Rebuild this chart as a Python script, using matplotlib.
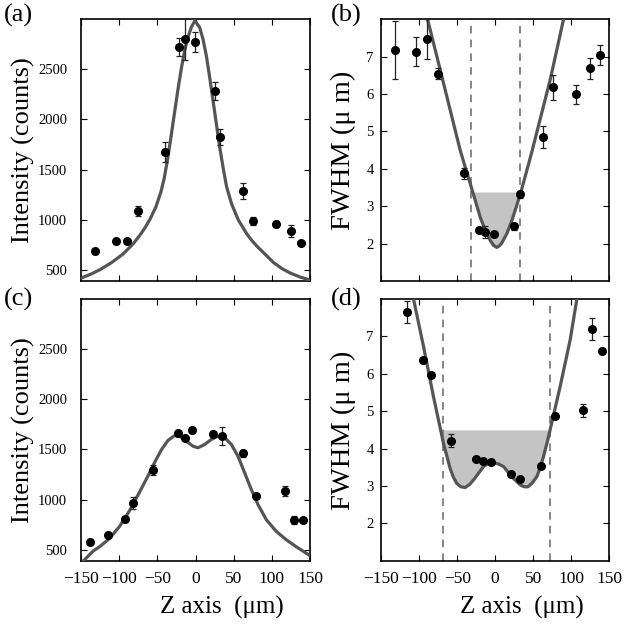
import numpy as np
import matplotlib
matplotlib.use("Agg")
import matplotlib.pyplot as plt

plt.rcParams['font.family'] = ['Liberation Serif', 'DejaVu Serif']
plt.rcParams['axes.unicode_minus'] = True

# ---- panel (a): intensity, measured points + model curve
a_x = [-131.7, -104.1, -89.7, -74.9, -40.4, -21.6, -13.3, -1.1, 25.5, 32.5, 61.8, 75.8, 105.5, 124.7, 138.2]
a_y = [688, 785, 785, 1085, 1680, 2720, 2805, 2775, 2283, 1827, 1285, 990, 957, 890, 765]
a_err = [25, 15, 15, 50, 100, 90, 210, 100, 90, 80, 80, 40, 30, 60, 15]
a_cx = [-150, -137, -125, -110, -95, -82, -72.7, -66, -59.5, -52, -45.4, -41, -36.6, -32.2, -27.8, -23.3,
        -18.9, -14.5, -10.1, -5.7, -1, 5.3, 9.7, 14.1, 18.5, 22.9, 27.3, 31.7, 36.1, 40.5, 47.1, 55.9,
        67, 73.6, 80, 90, 102, 113, 124, 137, 150]
a_cy = [420, 460, 505, 575, 660, 760, 850, 925, 1010, 1130, 1280, 1420, 1610, 1830, 2060, 2290,
        2500, 2683, 2817, 2917, 2985, 2917, 2800, 2633, 2417, 2183, 1950, 1717, 1517, 1333, 1160, 1000,
        860, 795, 740, 665, 575, 515, 470, 430, 400]

# ---- panel (b): FWHM
b_x = [-131.6, -104.4, -89.9, -75.4, -40.8, -21.9, -13.2, -1.3, 25.4, 32.5, 62.3, 76.3, 106.1, 125.0, 138.2]
b_y = [7.17, 7.13, 7.46, 6.54, 3.88, 2.37, 2.31, 2.25, 2.46, 3.32, 4.85, 6.18, 5.99, 6.68, 7.04]
b_err = [0.78, 0.39, 0.53, 0.15, 0.15, 0.05, 0.15, 0.04, 0.1, 0.1, 0.3, 0.33, 0.25, 0.28, 0.27]
b_cx = [-89, -68, -46.1, -39.5, -32.9, -31.6, -26.3, -19.7, -13.2, -6.6, -2, 2.2, 6, 8.8, 15.4,
        22, 28.5, 32.9, 35.1, 41.7, 48.2, 72.4, 90]
b_cy = [8.0, 6.29, 4.5, 4.05, 3.61, 3.52, 3.16, 2.71, 2.36, 2.09, 1.95, 1.9, 1.95, 2.02, 2.27,
        2.62, 3.03, 3.32, 3.47, 3.96, 4.45, 6.38, 8.0]
b_lines = [-31.6, 32.9]
b_level = 3.38

# ---- panel (c): intensity
c_x = [-139, -114.6, -92.4, -82.3, -55.7, -22.9, -13.3, -4.1, 22.9, 34.7, 62.7, 79.7, 117.3, 128.6, 141.3]
c_y = [577, 650, 807, 967, 1300, 1660, 1617, 1690, 1657, 1633, 1460, 1033, 1083, 800, 793]
c_err = [15, 15, 20, 60, 50, 15, 15, 30, 25, 90, 30, 10, 50, 40, 10]
c_cx = [-147, -134, -126, -112.9, -99.7, -86.6, -73.5, -62.5, -53.8, -45, -36.3, -27.6, -21, -12.2,
        -3.5, 3.1, 11.8, 20.6, 29.3, 38.1, 46.8, 55.5, 64.3, 73, 81.8, 92.7, 105.8, 118.9, 132, 147.4, 150]
c_cy = [390, 490, 530, 612, 733, 890, 1075, 1235, 1370, 1495, 1590, 1638, 1633, 1583,
        1533, 1517, 1550, 1600, 1633, 1617, 1550, 1433, 1267, 1100, 950, 800, 683, 600, 530, 455, 440]

# ---- panel (d): FWHM
d_x = [-116.2, -95.2, -84.6, -57.5, -25.4, -16.2, -6.1, 20.2, 32.9, 60.1, 78.5, 115.4, 127.2, 140.4]
d_y = [7.65, 6.38, 5.97, 4.21, 3.71, 3.68, 3.65, 3.32, 3.19, 3.54, 4.86, 5.02, 7.2, 6.62]
d_err = [0.3, 0.04, 0.04, 0.18, 0.03, 0.03, 0.03, 0.03, 0.03, 0.03, 0.03, 0.18, 0.3, 0.03]
d_cx = [-107.5, -94.3, -81.2, -68, -59.3, -54.8, -50.5, -45.2, -39.5, -33.8, -28.6, -21.9, -15.4, -8.8,
        -2.2, 4.4, 11, 17.5, 24.2, 33, 38.2, 43, 48.2, 54.8, 59.2, 63.6, 68, 71.9, 85.5, 98.7, 107.5]
d_cy = [8.0, 6.73, 5.39, 4.14, 3.47, 3.23, 3.07, 2.98, 2.96, 3.04, 3.16, 3.34, 3.52, 3.60,
        3.625, 3.59, 3.52, 3.36, 3.2, 3.03, 2.98, 2.98, 3.07, 3.25, 3.49, 3.79, 4.14, 4.47, 5.66, 6.91, 8.0]
d_lines = [-68, 71.9]
d_level = 4.5

xticks = [-150, -100, -50, 0, 50, 100, 150]
curve_color = '#555555'

fig = plt.figure(figsize=(6.29, 6.26), dpi=100)

def setup(ax, show_xlabels, ypad):
    ax.set_xlim(-150, 150)
    ax.set_xticks(xticks)
    ax.tick_params(direction='in', top=True, right=True, length=4, width=0.8)
    ax.tick_params(axis='x', labelsize=12.5, pad=7)
    ax.tick_params(axis='y', labelsize=10.5, pad=ypad)
    for s in ax.spines.values():
        s.set_linewidth(1.2)
    if show_xlabels:
        ax.set_xlabel('Z axis  (μm)', fontsize=18)
        ax.xaxis.set_label_coords(0.615, -0.135)
    else:
        ax.set_xticklabels([])

def draw_points(ax, x, y, err):
    ax.errorbar(x, y, yerr=err, fmt='o', color='black', ms=5.5,
                ecolor='#222222', elinewidth=0.9, capsize=2.2, capthick=0.9, zorder=4)

# axes boxes (fractions of figure)
pos = {'a': [0.129, 0.551, 0.364, 0.4185],
       'b': [0.606, 0.551, 0.3625, 0.4185],
       'c': [0.129, 0.104, 0.364, 0.4185],
       'd': [0.606, 0.104, 0.3625, 0.4185]}

# intensity panels
for key, x, y, err, cx, cy in [('a', a_x, a_y, a_err, a_cx, a_cy),
                               ('c', c_x, c_y, c_err, c_cx, c_cy)]:
    ax = fig.add_axes(pos[key])
    ax.plot(cx, cy, color=curve_color, lw=2.3, zorder=3)
    draw_points(ax, x, y, err)
    ax.set_ylim(390, 3000)
    ax.set_yticks([500, 1000, 1500, 2000, 2500])
    ax.set_ylabel('Intensity (counts)', fontsize=19)
    ax.yaxis.set_label_coords(-0.2, 0.5)
    setup(ax, key == 'c', 10)

# FWHM panels with the shaded region between the dashed lines
for key, x, y, err, cx, cy, lines, level in [('b', b_x, b_y, b_err, b_cx, b_cy, b_lines, b_level),
                                             ('d', d_x, d_y, d_err, d_cx, d_cy, d_lines, d_level)]:
    ax = fig.add_axes(pos[key])
    cx_arr = np.array(cx)
    cy_arr = np.array(cy)
    inside = (cx_arr >= lines[0]) & (cx_arr <= lines[1])
    ax.fill_between(cx_arr[inside], np.minimum(cy_arr[inside], level), level,
                    color='#c4c4c4', lw=0, zorder=1)
    for lx in lines:
        ax.axvline(lx, color='#666666', ls=(0, (5, 4)), lw=1.1, zorder=2)
    ax.plot(cx, cy, color=curve_color, lw=2.3, zorder=3)
    draw_points(ax, x, y, err)
    ax.set_ylim(1, 8)
    ax.set_yticks([2, 3, 4, 5, 6, 7])
    ax.set_ylabel('FWHM (μ m)', fontsize=20.5)
    ax.yaxis.set_label_coords(-0.11, 0.5)
    setup(ax, key == 'd', 5.5)

# panel letters
for label, fx, fy in [('(a)', 0.006, 0.993), ('(b)', 0.526, 0.993),
                      ('(c)', 0.006, 0.54), ('(d)', 0.526, 0.54)]:
    fig.text(fx, fy, label, fontsize=19, va='top')

fig.savefig('out.png', dpi=100)
